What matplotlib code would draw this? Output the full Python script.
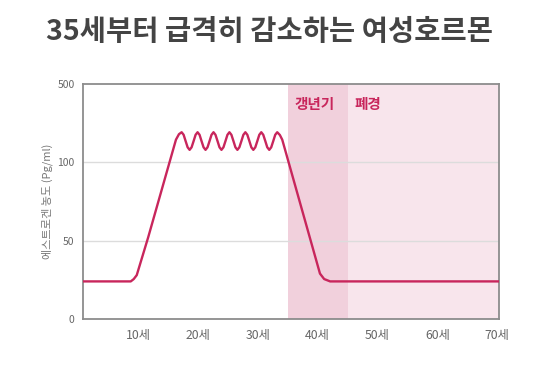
import numpy as np
import matplotlib.pyplot as plt

plt.rcParams['font.family'] = ['Noto Sans CJK KR', 'DejaVu Sans']

# ages (years) and estrogen level (pg/ml)
ages = [0.8, 8.8, 9.3, 9.8, 11.7, 16.35, 16.85,
        17.3, 17.63, 17.96, 18.3, 18.63,
        18.96, 19.3, 19.63, 19.96, 20.29, 20.62, 20.96, 21.29,
        21.62, 21.96, 22.29, 22.62, 22.95, 23.29, 23.62, 23.95,
        24.28, 24.62, 24.95, 25.28, 25.61, 25.95, 26.28, 26.61,
        26.94, 27.28, 27.61, 27.94, 28.27, 28.61, 28.94, 29.27,
        29.6, 29.94, 30.27, 30.6, 30.93, 31.27, 31.6, 31.93,
        32.26, 32.6, 32.93, 33.26,
        33.7, 34.1, 40.4, 41.1, 42.1, 70.3]
level = [24, 24, 25.5, 28, 52, 216, 244,
         254, 241, 209, 177, 164,
         177, 209, 241, 254, 241, 209, 177, 164,
         177, 209, 241, 254, 241, 209, 177, 164,
         177, 209, 241, 254, 241, 209, 177, 164,
         177, 209, 241, 254, 241, 209, 177, 164,
         177, 209, 241, 254, 241, 209, 177, 164,
         177, 209, 241, 254,
         240, 216, 29, 25.5, 24, 24]

perimenopause = (35, 45)
menopause = (45, 70.3)
x_ticks = [10, 20, 30, 40, 50, 60, 70]
x_labels = ['10세', '20세', '30세', '40세', '50세', '60세', '70세']
y_ticks = [0, 50, 100, 500]


# the y axis is squeezed above 100
def fwd(v):
    v = np.asarray(v, dtype=float)
    return np.where(v <= 100, v / 50, 2 + (v - 100) / 400)


def inv(y):
    y = np.asarray(y, dtype=float)
    return np.where(y <= 2, y * 50, 100 + (y - 2) * 400)


fig = plt.figure(figsize=(5.38, 3.72), dpi=100)
ax = fig.add_axes([0.154, 0.1425, 0.7735, 0.6315])
ax.set_yscale('function', functions=(fwd, inv))

ax.axvspan(*perimenopause, color='#f1d0dc', lw=0, zorder=0)
ax.axvspan(*menopause, color='#f8e5ec', lw=0, zorder=0)
for v in [50, 100]:
    ax.axhline(v, color='#dcdcdc', lw=1, zorder=0.5)

ax.plot(ages, level, color='#c8265c', lw=1.7, zorder=3,
        solid_joinstyle='round')

ax.text(36.2, 400, '갱년기', color='#c8265c', fontsize=10.5,
        fontweight='bold', va='center')
ax.text(46.2, 400, '폐경', color='#c8265c', fontsize=10.5,
        fontweight='bold', va='center')

ax.set_xlim(0.8, 70.3)
ax.set_ylim(0, 500)
ax.set_xticks(x_ticks)
ax.set_xticklabels(x_labels)
ax.set_yticks(y_ticks)
ax.set_yticklabels([str(t) for t in y_ticks])
ax.yaxis.set_minor_locator(plt.NullLocator())
ax.tick_params(length=0, colors='#666666')
ax.tick_params(axis='x', pad=7, labelsize=8.8)
ax.tick_params(axis='y', pad=6, labelsize=7.5)
for s in ax.spines.values():
    s.set_color('#8c8c8c')
    s.set_linewidth(1.3)

ax.set_ylabel('에스트로겐 농도 (Pg/ml)', fontsize=8, color='#777777',
              labelpad=3)

fig.text(0.5, 0.914, '35세부터 급격히 감소하는 여성호르몬', ha='center',
         va='center', fontsize=20.5, fontweight='bold', color='#444444')

fig.savefig('out.png', dpi=100)
